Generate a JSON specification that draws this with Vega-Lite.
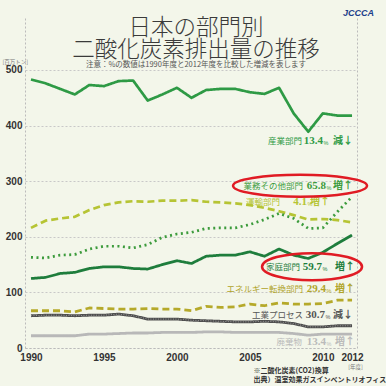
{
  "$schema": "https://vega.github.io/schema/vega-lite/v6.json",
  "width": 332,
  "height": 330,
  "autosize": "none",
  "padding": {"left": 25, "top": 18, "right": 29, "bottom": 38},
  "background": "#f3f6ea",
  "config": {"view": {"stroke": null}},
  "title": {
    "text": ["日本の部門別", "二酸化炭素排出量の推移"],
    "subtitle": "注意：%の数値は1990年度と2012年度を比較した増減を表します",
    "anchor": "middle",
    "frame": "group",
    "offset": -60,
    "dx": 5,
    "font": "Noto Sans CJK JP",
    "fontSize": 22.5,
    "fontWeight": 300,
    "color": "#3a3a3a",
    "lineHeight": 22.5,
    "subtitleFont": "Noto Sans CJK JP",
    "subtitleFontSize": 7.5,
    "subtitleColor": "#555555",
    "subtitlePadding": -1
  },
  "data": {"values": [
    {"sector": "産業部門", "year": 1990, "value": 483}, {"sector": "産業部門", "year": 1991, "value": 476}, {"sector": "産業部門", "year": 1992, "value": 466}, {"sector": "産業部門", "year": 1993, "value": 456}, {"sector": "産業部門", "year": 1994, "value": 473}, {"sector": "産業部門", "year": 1995, "value": 471}, {"sector": "産業部門", "year": 1996, "value": 480}, {"sector": "産業部門", "year": 1997, "value": 481}, {"sector": "産業部門", "year": 1998, "value": 445}, {"sector": "産業部門", "year": 1999, "value": 456}, {"sector": "産業部門", "year": 2000, "value": 468}, {"sector": "産業部門", "year": 2001, "value": 450}, {"sector": "産業部門", "year": 2002, "value": 464}, {"sector": "産業部門", "year": 2003, "value": 466}, {"sector": "産業部門", "year": 2004, "value": 466}, {"sector": "産業部門", "year": 2005, "value": 460}, {"sector": "産業部門", "year": 2006, "value": 457}, {"sector": "産業部門", "year": 2007, "value": 468}, {"sector": "産業部門", "year": 2008, "value": 422}, {"sector": "産業部門", "year": 2009, "value": 389}, {"sector": "産業部門", "year": 2010, "value": 422}, {"sector": "産業部門", "year": 2011, "value": 418}, {"sector": "産業部門", "year": 2012, "value": 418},
    {"sector": "運輸部門", "year": 1990, "value": 216}, {"sector": "運輸部門", "year": 1991, "value": 229}, {"sector": "運輸部門", "year": 1992, "value": 233}, {"sector": "運輸部門", "year": 1993, "value": 236}, {"sector": "運輸部門", "year": 1994, "value": 248}, {"sector": "運輸部門", "year": 1995, "value": 257}, {"sector": "運輸部門", "year": 1996, "value": 262}, {"sector": "運輸部門", "year": 1997, "value": 264}, {"sector": "運輸部門", "year": 1998, "value": 263}, {"sector": "運輸部門", "year": 1999, "value": 265}, {"sector": "運輸部門", "year": 2000, "value": 265}, {"sector": "運輸部門", "year": 2001, "value": 266}, {"sector": "運輸部門", "year": 2002, "value": 263}, {"sector": "運輸部門", "year": 2003, "value": 262}, {"sector": "運輸部門", "year": 2004, "value": 260}, {"sector": "運輸部門", "year": 2005, "value": 257}, {"sector": "運輸部門", "year": 2006, "value": 252}, {"sector": "運輸部門", "year": 2007, "value": 246}, {"sector": "運輸部門", "year": 2008, "value": 239}, {"sector": "運輸部門", "year": 2009, "value": 231}, {"sector": "運輸部門", "year": 2010, "value": 232}, {"sector": "運輸部門", "year": 2011, "value": 230}, {"sector": "運輸部門", "year": 2012, "value": 226},
    {"sector": "業務その他部門", "year": 1990, "value": 163}, {"sector": "業務その他部門", "year": 1991, "value": 162}, {"sector": "業務その他部門", "year": 1992, "value": 167}, {"sector": "業務その他部門", "year": 1993, "value": 168}, {"sector": "業務その他部門", "year": 1994, "value": 178}, {"sector": "業務その他部門", "year": 1995, "value": 183}, {"sector": "業務その他部門", "year": 1996, "value": 183}, {"sector": "業務その他部門", "year": 1997, "value": 180}, {"sector": "業務その他部門", "year": 1998, "value": 186}, {"sector": "業務その他部門", "year": 1999, "value": 199}, {"sector": "業務その他部門", "year": 2000, "value": 205}, {"sector": "業務その他部門", "year": 2001, "value": 208}, {"sector": "業務その他部門", "year": 2002, "value": 215}, {"sector": "業務その他部門", "year": 2003, "value": 216}, {"sector": "業務その他部門", "year": 2004, "value": 216}, {"sector": "業務その他部門", "year": 2005, "value": 222}, {"sector": "業務その他部門", "year": 2006, "value": 231}, {"sector": "業務その他部門", "year": 2007, "value": 242}, {"sector": "業務その他部門", "year": 2008, "value": 233}, {"sector": "業務その他部門", "year": 2009, "value": 215}, {"sector": "業務その他部門", "year": 2010, "value": 216}, {"sector": "業務その他部門", "year": 2011, "value": 245}, {"sector": "業務その他部門", "year": 2012, "value": 272},
    {"sector": "家庭部門", "year": 1990, "value": 125}, {"sector": "家庭部門", "year": 1991, "value": 127}, {"sector": "家庭部門", "year": 1992, "value": 134}, {"sector": "家庭部門", "year": 1993, "value": 136}, {"sector": "家庭部門", "year": 1994, "value": 143}, {"sector": "家庭部門", "year": 1995, "value": 146}, {"sector": "家庭部門", "year": 1996, "value": 146}, {"sector": "家庭部門", "year": 1997, "value": 143}, {"sector": "家庭部門", "year": 1998, "value": 142}, {"sector": "家庭部門", "year": 1999, "value": 150}, {"sector": "家庭部門", "year": 2000, "value": 157}, {"sector": "家庭部門", "year": 2001, "value": 152}, {"sector": "家庭部門", "year": 2002, "value": 165}, {"sector": "家庭部門", "year": 2003, "value": 167}, {"sector": "家庭部門", "year": 2004, "value": 167}, {"sector": "家庭部門", "year": 2005, "value": 173}, {"sector": "家庭部門", "year": 2006, "value": 165}, {"sector": "家庭部門", "year": 2007, "value": 178}, {"sector": "家庭部門", "year": 2008, "value": 167}, {"sector": "家庭部門", "year": 2009, "value": 161}, {"sector": "家庭部門", "year": 2010, "value": 172}, {"sector": "家庭部門", "year": 2011, "value": 188}, {"sector": "家庭部門", "year": 2012, "value": 203},
    {"sector": "エネルギー転換部門", "year": 1990, "value": 67}, {"sector": "エネルギー転換部門", "year": 1991, "value": 67}, {"sector": "エネルギー転換部門", "year": 1992, "value": 67}, {"sector": "エネルギー転換部門", "year": 1993, "value": 65}, {"sector": "エネルギー転換部門", "year": 1994, "value": 72}, {"sector": "エネルギー転換部門", "year": 1995, "value": 71}, {"sector": "エネルギー転換部門", "year": 1996, "value": 70}, {"sector": "エネルギー転換部門", "year": 1997, "value": 70}, {"sector": "エネルギー転換部門", "year": 1998, "value": 71}, {"sector": "エネルギー転換部門", "year": 1999, "value": 70}, {"sector": "エネルギー転換部門", "year": 2000, "value": 70}, {"sector": "エネルギー転換部門", "year": 2001, "value": 67}, {"sector": "エネルギー転換部門", "year": 2002, "value": 75}, {"sector": "エネルギー転換部門", "year": 2003, "value": 73}, {"sector": "エネルギー転換部門", "year": 2004, "value": 74}, {"sector": "エネルギー転換部門", "year": 2005, "value": 79}, {"sector": "エネルギー転換部門", "year": 2006, "value": 76}, {"sector": "エネルギー転換部門", "year": 2007, "value": 81}, {"sector": "エネルギー転換部門", "year": 2008, "value": 79}, {"sector": "エネルギー転換部門", "year": 2009, "value": 79}, {"sector": "エネルギー転換部門", "year": 2010, "value": 80}, {"sector": "エネルギー転換部門", "year": 2011, "value": 86}, {"sector": "エネルギー転換部門", "year": 2012, "value": 86},
    {"sector": "工業プロセス", "year": 1990, "value": 58}, {"sector": "工業プロセス", "year": 1991, "value": 59}, {"sector": "工業プロセス", "year": 1992, "value": 59}, {"sector": "工業プロセス", "year": 1993, "value": 58}, {"sector": "工業プロセス", "year": 1994, "value": 59}, {"sector": "工業プロセス", "year": 1995, "value": 59}, {"sector": "工業プロセス", "year": 1996, "value": 61}, {"sector": "工業プロセス", "year": 1997, "value": 58}, {"sector": "工業プロセス", "year": 1998, "value": 52}, {"sector": "工業プロセス", "year": 1999, "value": 52}, {"sector": "工業プロセス", "year": 2000, "value": 52}, {"sector": "工業プロセス", "year": 2001, "value": 50}, {"sector": "工業プロセス", "year": 2002, "value": 49}, {"sector": "工業プロセス", "year": 2003, "value": 48}, {"sector": "工業プロセス", "year": 2004, "value": 47}, {"sector": "工業プロセス", "year": 2005, "value": 47}, {"sector": "工業プロセス", "year": 2006, "value": 48}, {"sector": "工業プロセス", "year": 2007, "value": 47}, {"sector": "工業プロセス", "year": 2008, "value": 44}, {"sector": "工業プロセス", "year": 2009, "value": 38}, {"sector": "工業プロセス", "year": 2010, "value": 38}, {"sector": "工業プロセス", "year": 2011, "value": 40}, {"sector": "工業プロセス", "year": 2012, "value": 40},
    {"sector": "廃棄物", "year": 1990, "value": 22}, {"sector": "廃棄物", "year": 1991, "value": 22}, {"sector": "廃棄物", "year": 1992, "value": 22}, {"sector": "廃棄物", "year": 1993, "value": 22}, {"sector": "廃棄物", "year": 1994, "value": 25}, {"sector": "廃棄物", "year": 1995, "value": 25}, {"sector": "廃棄物", "year": 1996, "value": 26}, {"sector": "廃棄物", "year": 1997, "value": 27}, {"sector": "廃棄物", "year": 1998, "value": 27}, {"sector": "廃棄物", "year": 1999, "value": 28}, {"sector": "廃棄物", "year": 2000, "value": 28}, {"sector": "廃棄物", "year": 2001, "value": 28}, {"sector": "廃棄物", "year": 2002, "value": 29}, {"sector": "廃棄物", "year": 2003, "value": 29}, {"sector": "廃棄物", "year": 2004, "value": 28}, {"sector": "廃棄物", "year": 2005, "value": 28}, {"sector": "廃棄物", "year": 2006, "value": 28}, {"sector": "廃棄物", "year": 2007, "value": 28}, {"sector": "廃棄物", "year": 2008, "value": 26}, {"sector": "廃棄物", "year": 2009, "value": 23}, {"sector": "廃棄物", "year": 2010, "value": 25}, {"sector": "廃棄物", "year": 2011, "value": 25}, {"sector": "廃棄物", "year": 2012, "value": 25}
  ]},
  "encoding": {
    "x": {"field": "year", "type": "quantitative", "scale": {"domain": [1989.59, 2012.34], "nice": false, "zero": false}, "axis": null},
    "y": {"field": "value", "type": "quantitative", "scale": {"domain": [0, 593.5], "nice": false, "zero": true}, "axis": null}
  },
  "resolve": {"axis": {"x": "independent", "y": "independent"}},
  "layer": [
    {
      "mark": {"type": "line", "strokeCap": "butt", "strokeJoin": "round"},
      "encoding": {
        "x": {"field": "year", "type": "quantitative", "axis": {
          "orient": "bottom", "values": [1990, 1995, 2000, 2005, 2010, 2012], "format": "d", "grid": false, "ticks": false,
          "domain": true, "domainDash": [2, 2], "domainColor": "#bbbbbb", "domainWidth": 1,
          "labelFont": "Liberation Sans", "labelFontWeight": "bold", "labelFontSize": 10, "labelColor": "#333333", "labelPadding": 4, "labelFlush": false,
          "title": "[年度]", "titleFont": "Noto Sans CJK JP", "titleFontSize": 5.5, "titleFontWeight": "normal", "titleColor": "#777777",
          "titleX": 330, "titleY": 18, "titleAlign": "center", "titleBaseline": "middle"
        }},
        "y": {"field": "value", "type": "quantitative", "axis": {
          "orient": "left", "values": [0, 100, 200, 300, 400, 500], "grid": true, "gridDash": [2, 2], "gridColor": "#c8c8c8", "gridWidth": 1,
          "ticks": false, "domain": true, "domainDash": [2, 2], "domainColor": "#bbbbbb", "domainWidth": 1,
          "labelFont": "Liberation Sans", "labelFontWeight": "bold", "labelFontSize": 10, "labelColor": "#333333", "labelPadding": 3,
          "title": "[百万トン]", "titleFont": "Noto Sans CJK JP", "titleFontSize": 5.5, "titleFontWeight": "normal", "titleColor": "#777777",
          "titleAngle": 0, "titleX": -23, "titleY": 43, "titleAlign": "left", "titleBaseline": "middle"
        }},
        "detail": {"field": "sector"},
        "color": {"field": "sector", "type": "nominal", "legend": null, "scale": {
          "domain": ["産業部門", "運輸部門", "業務その他部門", "家庭部門", "エネルギー転換部門", "工業プロセス", "廃棄物"],
          "range": ["#2e9a45", "#b6c434", "#3c9b3c", "#1e7d3c", "#b5a92a", "#4d4d4d", "#b8b8b8"]}},
        "strokeDash": {"field": "sector", "type": "nominal", "legend": null, "scale": {
          "domain": ["産業部門", "運輸部門", "業務その他部門", "家庭部門", "エネルギー転換部門", "工業プロセス", "廃棄物"],
          "range": [[1, 0], [7, 4], [2, 3.5], [1, 0], [7, 4], [1, 0], [1, 0]]}},
        "strokeWidth": {"field": "sector", "type": "nominal", "legend": null, "scale": {
          "domain": ["産業部門", "運輸部門", "業務その他部門", "家庭部門", "エネルギー転換部門", "工業プロセス", "廃棄物"],
          "range": [2.7, 2.8, 2.5, 2.6, 2.8, 3.5, 2.5]}}
      }
    },
    {
      "transform": [{"filter": {"field": "sector", "equal": "工業プロセス"}}],
      "mark": {"type": "line", "color": "#9a9a9a", "strokeWidth": 1, "strokeDash": [1, 1.5]}
    },
    {"transform": [{"filter": {"and": [{"field": "sector", "equal": "産業部門"}, {"field": "year", "equal": 2012}]}}], "mark": {"type": "text", "text": "産業部門", "align": "right", "baseline": "middle", "dx": -50, "dy": 25, "font": "Noto Sans CJK JP", "fontSize": 8.5, "color": "#2e9a45"}},
    {"transform": [{"filter": {"and": [{"field": "sector", "equal": "産業部門"}, {"field": "year", "equal": 2012}]}}], "mark": {"type": "text", "text": "13.4", "align": "right", "baseline": "middle", "dx": -29, "dy": 25, "font": "Liberation Sans Narrow", "fontWeight": "bold", "fontSize": 11, "color": "#2e9a45"}},
    {"transform": [{"filter": {"and": [{"field": "sector", "equal": "産業部門"}, {"field": "year", "equal": 2012}]}}], "mark": {"type": "text", "text": "%", "align": "left", "baseline": "middle", "dx": -28.5, "dy": 27, "font": "Liberation Sans", "fontSize": 5.5, "color": "#2e9a45"}},
    {"transform": [{"filter": {"and": [{"field": "sector", "equal": "産業部門"}, {"field": "year", "equal": 2012}]}}], "mark": {"type": "text", "text": "減↓", "align": "right", "baseline": "middle", "dx": 1, "dy": 25, "font": "Noto Sans CJK JP", "fontWeight": "bold", "fontSize": 10, "color": "#2e9a45"}},

    {"transform": [{"filter": {"and": [{"field": "sector", "equal": "業務その他部門"}, {"field": "year", "equal": 2012}]}}], "mark": {"type": "text", "text": "業務その他部門", "align": "right", "baseline": "middle", "dx": -49, "dy": -11, "font": "Noto Sans CJK JP", "fontSize": 8.5, "color": "#3c9b3c"}},
    {"transform": [{"filter": {"and": [{"field": "sector", "equal": "業務その他部門"}, {"field": "year", "equal": 2012}]}}], "mark": {"type": "text", "text": "65.8", "align": "right", "baseline": "middle", "dx": -26, "dy": -11, "font": "Liberation Sans Narrow", "fontWeight": "bold", "fontSize": 11, "color": "#3c9b3c"}},
    {"transform": [{"filter": {"and": [{"field": "sector", "equal": "業務その他部門"}, {"field": "year", "equal": 2012}]}}], "mark": {"type": "text", "text": "%", "align": "left", "baseline": "middle", "dx": -25.5, "dy": -9, "font": "Liberation Sans", "fontSize": 5.5, "color": "#3c9b3c"}},
    {"transform": [{"filter": {"and": [{"field": "sector", "equal": "業務その他部門"}, {"field": "year", "equal": 2012}]}}], "mark": {"type": "text", "text": "増↑", "align": "right", "baseline": "middle", "dx": 1, "dy": -11, "font": "Noto Sans CJK JP", "fontWeight": "bold", "fontSize": 10, "color": "#3c9b3c"}},

    {"transform": [{"filter": {"and": [{"field": "sector", "equal": "運輸部門"}, {"field": "year", "equal": 2012}]}}], "mark": {"type": "text", "text": "運輸部門", "align": "right", "baseline": "middle", "dx": -72, "dy": -20, "font": "Noto Sans CJK JP", "fontSize": 8.5, "color": "#b6c434"}},
    {"transform": [{"filter": {"and": [{"field": "sector", "equal": "運輸部門"}, {"field": "year", "equal": 2012}]}}], "mark": {"type": "text", "text": "4.1", "align": "right", "baseline": "middle", "dx": -45, "dy": -20, "font": "Liberation Sans Narrow", "fontWeight": "bold", "fontSize": 11, "color": "#b6c434"}},
    {"transform": [{"filter": {"and": [{"field": "sector", "equal": "運輸部門"}, {"field": "year", "equal": 2012}]}}], "mark": {"type": "text", "text": "%", "align": "left", "baseline": "middle", "dx": -44.5, "dy": -18, "font": "Liberation Sans", "fontSize": 5.5, "color": "#b6c434"}},
    {"transform": [{"filter": {"and": [{"field": "sector", "equal": "運輸部門"}, {"field": "year", "equal": 2012}]}}], "mark": {"type": "text", "text": "増↑", "align": "right", "baseline": "middle", "dx": -22, "dy": -20, "font": "Noto Sans CJK JP", "fontWeight": "bold", "fontSize": 10, "color": "#b6c434"}},

    {"transform": [{"filter": {"and": [{"field": "sector", "equal": "家庭部門"}, {"field": "year", "equal": 2012}]}}], "mark": {"type": "text", "text": "家庭部門", "align": "right", "baseline": "middle", "dx": -52, "dy": 32, "font": "Noto Sans CJK JP", "fontSize": 8.5, "color": "#1e7d3c"}},
    {"transform": [{"filter": {"and": [{"field": "sector", "equal": "家庭部門"}, {"field": "year", "equal": 2012}]}}], "mark": {"type": "text", "text": "59.7", "align": "right", "baseline": "middle", "dx": -30, "dy": 32, "font": "Liberation Sans Narrow", "fontWeight": "bold", "fontSize": 11, "color": "#1e7d3c"}},
    {"transform": [{"filter": {"and": [{"field": "sector", "equal": "家庭部門"}, {"field": "year", "equal": 2012}]}}], "mark": {"type": "text", "text": "%", "align": "left", "baseline": "middle", "dx": -29.5, "dy": 34, "font": "Liberation Sans", "fontSize": 5.5, "color": "#1e7d3c"}},
    {"transform": [{"filter": {"and": [{"field": "sector", "equal": "家庭部門"}, {"field": "year", "equal": 2012}]}}], "mark": {"type": "text", "text": "増↑", "align": "right", "baseline": "middle", "dx": 3, "dy": 32, "font": "Noto Sans CJK JP", "fontWeight": "bold", "fontSize": 10, "color": "#1e7d3c"}},

    {"transform": [{"filter": {"and": [{"field": "sector", "equal": "エネルギー転換部門"}, {"field": "year", "equal": 2012}]}}], "mark": {"type": "text", "text": "エネルギー転換部門", "align": "right", "baseline": "middle", "dx": -49, "dy": -11, "font": "Noto Sans CJK JP", "fontSize": 8.5, "color": "#b0a42a"}},
    {"transform": [{"filter": {"and": [{"field": "sector", "equal": "エネルギー転換部門"}, {"field": "year", "equal": 2012}]}}], "mark": {"type": "text", "text": "29.4", "align": "right", "baseline": "middle", "dx": -26, "dy": -11, "font": "Liberation Sans Narrow", "fontWeight": "bold", "fontSize": 11, "color": "#b0a42a"}},
    {"transform": [{"filter": {"and": [{"field": "sector", "equal": "エネルギー転換部門"}, {"field": "year", "equal": 2012}]}}], "mark": {"type": "text", "text": "%", "align": "left", "baseline": "middle", "dx": -25.5, "dy": -9, "font": "Liberation Sans", "fontSize": 5.5, "color": "#b0a42a"}},
    {"transform": [{"filter": {"and": [{"field": "sector", "equal": "エネルギー転換部門"}, {"field": "year", "equal": 2012}]}}], "mark": {"type": "text", "text": "増↑", "align": "right", "baseline": "middle", "dx": 3, "dy": -11, "font": "Noto Sans CJK JP", "fontWeight": "bold", "fontSize": 10, "color": "#b0a42a"}},

    {"transform": [{"filter": {"and": [{"field": "sector", "equal": "工業プロセス"}, {"field": "year", "equal": 2012}]}}], "mark": {"type": "text", "text": "工業プロセス", "align": "right", "baseline": "middle", "dx": -49, "dy": -11, "font": "Noto Sans CJK JP", "fontSize": 8.5, "color": "#555555"}},
    {"transform": [{"filter": {"and": [{"field": "sector", "equal": "工業プロセス"}, {"field": "year", "equal": 2012}]}}], "mark": {"type": "text", "text": "30.7", "align": "right", "baseline": "middle", "dx": -27, "dy": -11, "font": "Liberation Sans Narrow", "fontWeight": "bold", "fontSize": 11, "color": "#555555"}},
    {"transform": [{"filter": {"and": [{"field": "sector", "equal": "工業プロセス"}, {"field": "year", "equal": 2012}]}}], "mark": {"type": "text", "text": "%", "align": "left", "baseline": "middle", "dx": -26.5, "dy": -9, "font": "Liberation Sans", "fontSize": 5.5, "color": "#555555"}},
    {"transform": [{"filter": {"and": [{"field": "sector", "equal": "工業プロセス"}, {"field": "year", "equal": 2012}]}}], "mark": {"type": "text", "text": "減↓", "align": "right", "baseline": "middle", "dx": 1, "dy": -11, "font": "Noto Sans CJK JP", "fontWeight": "bold", "fontSize": 10, "color": "#555555"}},

    {"transform": [{"filter": {"and": [{"field": "sector", "equal": "廃棄物"}, {"field": "year", "equal": 2012}]}}], "mark": {"type": "text", "text": "廃棄物", "align": "right", "baseline": "middle", "dx": -50, "dy": 8, "font": "Noto Sans CJK JP", "fontSize": 8.5, "color": "#bbbbbb"}},
    {"transform": [{"filter": {"and": [{"field": "sector", "equal": "廃棄物"}, {"field": "year", "equal": 2012}]}}], "mark": {"type": "text", "text": "13.4", "align": "right", "baseline": "middle", "dx": -26, "dy": 8, "font": "Liberation Sans Narrow", "fontWeight": "bold", "fontSize": 11, "color": "#bbbbbb"}},
    {"transform": [{"filter": {"and": [{"field": "sector", "equal": "廃棄物"}, {"field": "year", "equal": 2012}]}}], "mark": {"type": "text", "text": "%", "align": "left", "baseline": "middle", "dx": -25.5, "dy": 10, "font": "Liberation Sans", "fontSize": 5.5, "color": "#bbbbbb"}},
    {"transform": [{"filter": {"and": [{"field": "sector", "equal": "廃棄物"}, {"field": "year", "equal": 2012}]}}], "mark": {"type": "text", "text": "増↑", "align": "right", "baseline": "middle", "dx": 3, "dy": 8, "font": "Noto Sans CJK JP", "fontWeight": "bold", "fontSize": 10, "color": "#bbbbbb"}},

    {
      "transform": [{"filter": {"and": [{"field": "sector", "equal": "業務その他部門"}, {"field": "year", "equal": 2012}]}}],
      "mark": {"type": "point", "shape": "M -1 0 A 1 0.164 0 1 0 1 0 A 1 0.164 0 1 0 -1 0 Z", "size": 17956, "filled": false, "stroke": "#e01b24", "strokeWidth": 2.5, "opacity": 1, "xOffset": -52, "yOffset": -11},
      "encoding": {
        "x": {"field": "year", "type": "quantitative", "axis": {
          "orient": "top", "labels": false, "ticks": false, "grid": false, "domain": false,
          "title": "JCCCA", "titleFont": "Liberation Sans", "titleFontSize": 9, "titleFontWeight": "bold", "titleFontStyle": "italic", "titleColor": "#1d3f8a",
          "titleX": 333, "titleY": -6, "titleAlign": "center", "titleBaseline": "middle"
        }},
        "y": {"field": "value", "type": "quantitative", "axis": {
          "orient": "right", "labels": false, "ticks": false, "grid": false,
          "domain": true, "domainDash": [2, 2], "domainColor": "#bbbbbb", "domainWidth": 1,
          "title": ["※二酸化炭素(CO2)換算", "出典）温室効果ガスインベントリオフィス"], "titleFont": "Noto Sans CJK JP", "titleFontSize": 7, "titleFontWeight": "bold", "titleColor": "#333333",
          "titleAngle": 0, "titleX": -104, "titleY": 352, "titleAlign": "left", "titleBaseline": "middle", "titleLineHeight": 9
        }}
      }
    },
    {
      "transform": [{"filter": {"and": [{"field": "sector", "equal": "家庭部門"}, {"field": "year", "equal": 2012}]}}],
      "mark": {"type": "point", "shape": "M -1 0 A 1 0.27 0 1 0 1 0 A 1 0.27 0 1 0 -1 0 Z", "size": 10000, "filled": false, "stroke": "#e01b24", "strokeWidth": 2.5, "opacity": 1, "xOffset": -40, "yOffset": 31.5}
    }
  ]
}
